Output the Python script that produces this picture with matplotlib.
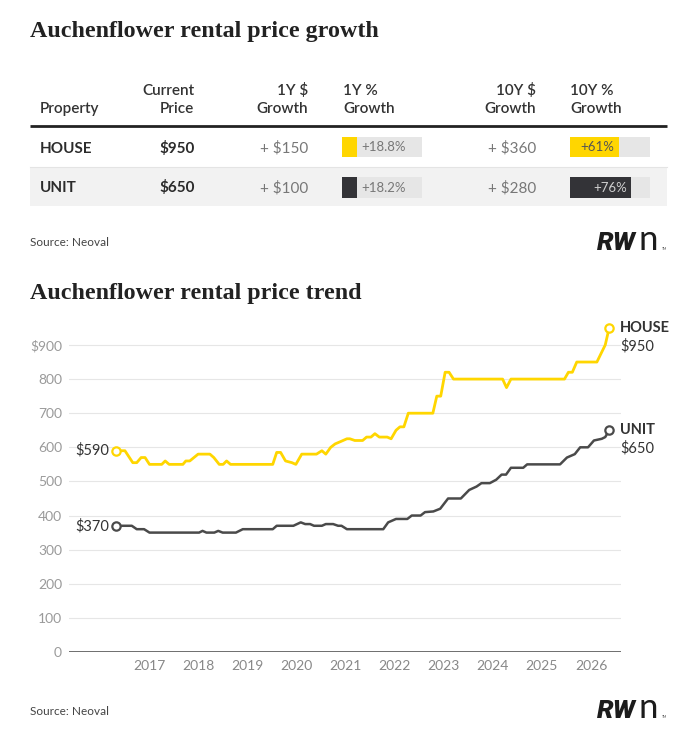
import matplotlib.pyplot as plt

# figure size in pixels (drawn at dpi 100)
W, H = 685, 743

# ---- table data ----
properties = ["HOUSE", "UNIT"]
current_price = ["$950", "$650"]
growth_1y_dollar = ["+ $150", "+ $100"]
growth_1y_pct = [18.8, 18.2]
growth_10y_dollar = ["+ $360", "+ $280"]
growth_10y_pct = [61, 76]

# ---- trend data (decimal years) ----
house_years = [2016.33, 2016.51, 2016.67, 2016.75, 2016.84, 2016.92, 2017.01, 2017.26,
               2017.33, 2017.41, 2017.69, 2017.75, 2017.83, 2018.00, 2018.24, 2018.32,
               2018.43, 2018.51, 2018.58, 2018.66, 2019.52, 2019.60, 2019.68, 2019.78,
               2019.91, 2019.99, 2020.11, 2020.41, 2020.52, 2020.60, 2020.70, 2020.79,
               2020.92, 2021.03, 2021.09, 2021.19, 2021.35, 2021.43, 2021.52, 2021.60,
               2021.69, 2021.85, 2021.93, 2022.03, 2022.11, 2022.19, 2022.28, 2022.78,
               2022.86, 2022.94, 2023.03, 2023.11, 2023.20, 2024.20, 2024.28, 2024.37,
               2025.46, 2025.54, 2025.62, 2025.71, 2026.12, 2026.29, 2026.37]
house_rent = [590, 590, 555, 555, 570, 570, 550, 550,
              560, 550, 550, 560, 560, 580, 580, 570,
              550, 550, 560, 550, 550, 585, 585, 560,
              555, 550, 580, 580, 590, 580, 600, 610,
              618, 625, 625, 620, 620, 630, 630, 640,
              630, 630, 625, 650, 660, 660, 700, 700,
              750, 750, 820, 820, 800, 800, 775, 800,
              800, 820, 820, 850, 850, 900, 950]

unit_years = [2016.33, 2016.65, 2016.75, 2016.90, 2017.01, 2018.02, 2018.09, 2018.17,
              2018.33, 2018.41, 2018.50, 2018.77, 2018.91, 2019.52, 2019.60, 2019.94,
              2020.09, 2020.18, 2020.28, 2020.36, 2020.52, 2020.60, 2020.75, 2020.85,
              2020.92, 2021.03, 2021.77, 2021.87, 2022.03, 2022.26, 2022.35, 2022.53,
              2022.62, 2022.79, 2022.93, 2023.09, 2023.35, 2023.52, 2023.67, 2023.77,
              2023.94, 2024.07, 2024.18, 2024.27, 2024.37, 2024.62, 2024.70, 2025.37,
              2025.51, 2025.67, 2025.78, 2025.94, 2026.06, 2026.22, 2026.29, 2026.37]
unit_rent = [370, 370, 360, 360, 350, 350, 355, 350,
             350, 355, 350, 350, 360, 360, 370, 370,
             380, 375, 375, 370, 370, 375, 375, 370,
             370, 360, 360, 380, 390, 390, 400, 400,
             410, 412, 420, 450, 450, 475, 485, 495,
             495, 505, 520, 520, 540, 540, 550, 550,
             570, 580, 600, 600, 620, 625, 630, 650]

year_ticks = list(range(2017, 2027))
rent_ticks = list(range(0, 1000, 100))

YELLOW = "#FFD600"
DARK_BAR = "#333337"
UNIT_LINE = "#4a4a4a"
TEXT = "#2b2b2b"

plt.rcParams['font.family'] = ['Lato', 'DejaVu Sans']
TITLE_FONT = ['Liberation Serif', 'DejaVu Serif']

fig = plt.figure(figsize=(W / 100, H / 100), dpi=100)

# background axes in pixel coordinates for titles / table
bg = fig.add_axes([0, 0, 1, 1])
bg.set_xlim(0, W)
bg.set_ylim(H, 0)
bg.axis('off')


def logo(y_base):
    bg.text(597, y_base, "RW", family=['Roboto', 'DejaVu Sans'], weight='black',
            style='italic', fontsize=19, color='#1c1c1c', va='baseline')
    bg.text(639, y_base, "n", family=['Lato', 'DejaVu Sans'], weight='normal',
            fontsize=25, color='#1c1c1c', va='baseline')
    bg.text(662, y_base, "TM", fontsize=2.5, color='#555', va='baseline')


# ---- section 1: table ----
bg.text(30, 37, "Auchenflower rental price growth", family=TITLE_FONT, weight='bold',
        fontsize=17.3, color='#222', va='baseline')

hdr = dict(fontsize=11, color='#333', weight='semibold', va='baseline')
bg.text(40, 113.3, "Property", ha='left', **hdr)
for x, l1, ha in [(194.5, "Current", 'right'), (308.5, "1Y $", 'right'),
                  (343, "1Y %", 'left'), (536, "10Y $", 'right'), (570, "10Y %", 'left')]:
    bg.text(x, 95, l1, ha=ha, **hdr)
    bg.text(x, 113.3, "Price" if l1 == "Current" else "Growth", ha=ha, **hdr)

bg.plot([30.5, 667], [125.6, 125.6], color='#222', lw=2, solid_capstyle='butt')
bg.plot([30.5, 667], [166.8, 166.8], color='#e4e4e4', lw=0.8)
bg.fill_between([30.5, 667], 167.2, 205.5, color='#f2f2f2', lw=0)

row_base = [152.8, 192.4]
row_top = [136.7, 177.3]
bar_colors = [YELLOW, DARK_BAR]
for i in range(len(properties)):
    yb = row_base[i]
    bg.text(40, yb, properties[i], fontsize=11, weight='bold', color=TEXT, va='baseline')
    bg.text(194.5, yb, current_price[i], fontsize=11, weight='bold', color=TEXT,
            ha='right', va='baseline')
    bg.text(308.5, yb, growth_1y_dollar[i], fontsize=11, color='#777',
            ha='right', va='baseline')
    bg.text(536, yb, growth_10y_dollar[i], fontsize=11, color='#777',
            ha='right', va='baseline')

    for x0, pct in [(342.3, growth_1y_pct[i]), (570, growth_10y_pct[i])]:
        bax = fig.add_axes([x0 / W, 1 - (row_top[i] + 20.5) / H, 80 / W, 20.5 / H])
        bax.barh(0, 100, height=1, color='#e6e6e6')
        bax.barh(0, pct, height=1, color=bar_colors[i])
        bax.set_xlim(0, 100)
        bax.set_ylim(-0.5, 0.5)
        bax.axis('off')
        label = f"+{pct:g}%"
        if pct > 40:
            tcol = '#555' if i == 0 else '#cfcfcf'
            bax.annotate(label, (pct, 0), xytext=(-3, 0), textcoords='offset points',
                         ha='right', va='center', fontsize=9.5, color=tcol)
        else:
            bax.annotate(label, (pct, 0), xytext=(3, 0), textcoords='offset points',
                         ha='left', va='center', fontsize=9.5, color='#777')

bg.text(30, 246, "Source: Neoval", fontsize=8.5, color='#444', va='baseline')
logo(250)

# ---- section 2: trend chart ----
bg.text(30, 298.5, "Auchenflower rental price trend", family=TITLE_FONT, weight='bold',
        fontsize=17.3, color='#222', va='baseline')

ax = fig.add_axes([69 / W, 1 - 652 / H, 552 / W, 327.5 / H])
ax.set_xlim(2015.371, 2026.611)
ax.set_ylim(0, 960)
for v in rent_ticks[1:]:
    ax.axhline(v, color='#e6e6e6', lw=0.8, zorder=0)
ax.axhline(0, color='#555', lw=1.2, zorder=1)
for s in ax.spines.values():
    s.set_visible(False)
ax.set_xticks(year_ticks)
ax.set_xticklabels([str(y) for y in year_ticks])
ax.set_yticks(rent_ticks)
ax.set_yticklabels([f"${v}" if v == rent_ticks[-1] else str(v) for v in rent_ticks])
ax.tick_params(axis='x', length=0, pad=6, labelsize=10, labelcolor='#888')
ax.tick_params(axis='y', length=0, pad=5, labelsize=10, labelcolor='#9a9a9a')

ax.plot(house_years, house_rent, color=YELLOW, lw=2, zorder=3)
ax.plot(unit_years, unit_rent, color=UNIT_LINE, lw=1.8, zorder=3)

for yrs, vals, col, name in [(house_years, house_rent, YELLOW, "HOUSE"),
                             (unit_years, unit_rent, UNIT_LINE, "UNIT")]:
    ax.plot([yrs[0], yrs[-1]], [vals[0], vals[-1]], 'o', mfc='white', mec=col,
            ms=6, mew=1.6, zorder=4, clip_on=False)
    ax.annotate(f"${vals[0]}", (yrs[0], vals[0]), xytext=(-5, 0), textcoords='offset points',
                ha='right', va='center', fontsize=10.5, color='#333')
    ax.annotate(name, (yrs[-1], vals[-1]), xytext=(8, 0), textcoords='offset points',
                ha='left', va='center', fontsize=10.5, weight='bold', color='#333',
                annotation_clip=False)
    ax.annotate(f"${vals[-1]}", (yrs[-1], vals[-1]), xytext=(8, -13), textcoords='offset points',
                ha='left', va='center', fontsize=10.5, color='#333', annotation_clip=False)

bg.text(30, 715, "Source: Neoval", fontsize=8.5, color='#444', va='baseline')
logo(718)

fig.savefig('out.png', dpi=100, facecolor='white')
